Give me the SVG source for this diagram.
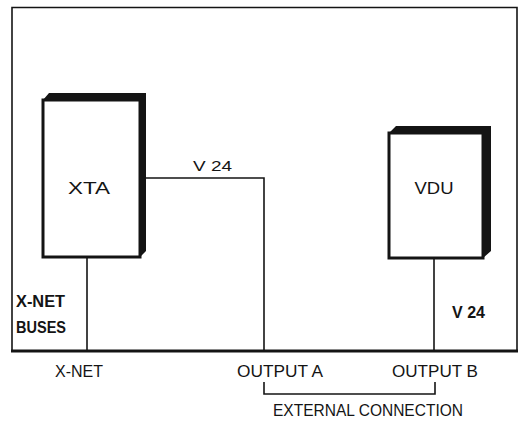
<svg xmlns="http://www.w3.org/2000/svg" width="525" height="423" viewBox="0 0 525 423">
<style>
.ln{fill:none;stroke:#141414;stroke-width:1.6}
.box{fill:#fff;stroke:#141414;stroke-width:3}
.band{fill:#141414}
text{font-family:"Liberation Sans",Arial,sans-serif;fill:#141414}
.lbl{font-size:16px}
.big{font-size:17px}
.sm{font-size:14px}
.b{font-weight:bold}
</style>
<rect width="525" height="423" fill="#fff"/>
<g id="frame">
<path class="ln" d="M12,351 V7.5 H517 V351"/>
<path d="M11,351 H518" fill="none" stroke="#141414" stroke-width="3"/>
</g>
<g id="connectors">
<path class="ln" d="M146,178 H264 V351"/>
<path class="ln" d="M87,257 V351"/>
<path class="ln" d="M434,258 V351"/>
<path class="ln" d="M264,382 V394 H435 V382"/>
</g>
<g id="xta">
<path class="band" d="M43,100 L49,93 L146,93 L146,251 L140,257 L140,100 Z"/>
<rect class="box" x="43" y="100" width="97" height="157"/>
<text class="big" x="89" y="194" text-anchor="middle" textLength="42" lengthAdjust="spacingAndGlyphs">XTA</text>
</g>
<g id="vdu">
<path class="band" d="M389,133 L396,126 L491,126 L491,251 L483,258 L483,133 Z"/>
<rect class="box" x="389" y="133" width="94" height="125"/>
<text class="big" x="434" y="194" text-anchor="middle" textLength="39" lengthAdjust="spacingAndGlyphs">VDU</text>
</g>
<g id="labels">
<text class="sm" x="193" y="171" textLength="39" lengthAdjust="spacingAndGlyphs">V 24</text>
<text class="lbl b" x="16" y="307" textLength="49" lengthAdjust="spacingAndGlyphs">X-NET</text>
<text class="lbl b" x="16" y="333" textLength="50" lengthAdjust="spacingAndGlyphs">BUSES</text>
<text class="lbl b" x="452" y="318" textLength="33" lengthAdjust="spacingAndGlyphs">V 24</text>
<text class="lbl" x="55" y="377" textLength="48" lengthAdjust="spacingAndGlyphs">X-NET</text>
<text class="lbl" x="237" y="377" textLength="86" lengthAdjust="spacingAndGlyphs">OUTPUT A</text>
<text class="lbl" x="392" y="377" textLength="86" lengthAdjust="spacingAndGlyphs">OUTPUT B</text>
<text class="lbl" x="273" y="416" textLength="190" lengthAdjust="spacingAndGlyphs">EXTERNAL CONNECTION</text>
</g>
</svg>
